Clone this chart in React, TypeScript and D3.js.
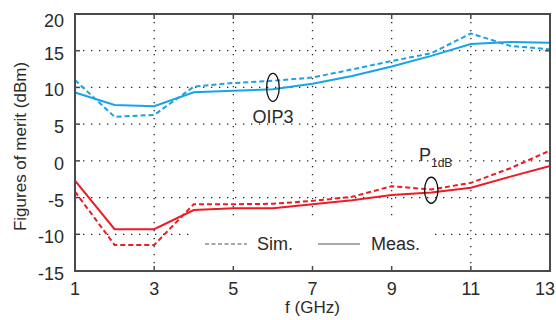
import React from "react";
import * as d3 from "d3";

const freqs = [1, 2, 3, 4, 5, 6, 7, 8, 9, 10, 11, 12, 13];
const oip3Sim = [11.0, 6.0, 6.25, 10.1, 10.6, 10.9, 11.35, 12.45, 13.6, 14.65, 17.35, 15.65, 15.2];
const oip3Meas = [9.3, 7.6, 7.45, 9.35, 9.55, 9.75, 10.5, 11.55, 12.85, 14.3, 15.9, 16.2, 16.1];
const p1dbSim = [-4.2, -11.45, -11.45, -5.9, -5.9, -5.85, -5.45, -4.9, -3.45, -3.9, -3.0, -1.0, 1.4];
const p1dbMeas = [-2.7, -9.3, -9.3, -6.7, -6.45, -6.45, -5.9, -5.35, -4.65, -4.3, -3.65, -2.15, -0.7];
const xTicks = [1, 3, 5, 7, 9, 11, 13];
const yTicks = [-15, -10, -5, 0, 5, 10, 15, 20];

const W = 556;
const H = 320;
const L = 75, R = 550, T = 14, B = 271;
const BLUE = "#1aa2e6";
const RED = "#ec1c24";
const TXT = "#2a2a2a";
const FONT = "Arial, 'Liberation Sans', sans-serif";

export default function App() {
  const x = d3.scaleLinear().domain([1, 13]).range([L, R]);
  const y = d3.scaleLinear().domain([-15, 20]).range([B, T]);
  const line = (vals: number[]) =>
    d3.line<number>().x((_, i) => x(freqs[i])).y((d) => y(d))(vals) || "";

  const tickLen = 5;
  return (
    <svg width={W} height={H} style={{ position: "fixed", left: 0, top: 0, background: "#fff" }}>
      <rect x={0} y={0} width={W} height={H} fill="#fff" />
      {/* grid */}
      {xTicks.slice(1, -1).map((t) => (
        <line key={"gx" + t} x1={x(t)} x2={x(t)} y1={T} y2={B} stroke="#222" strokeWidth={1.3} strokeDasharray="1.3 6.7" />
      ))}
      {yTicks.slice(1, -1).map((t) => (
        <line key={"gy" + t} x1={L} x2={R} y1={y(t)} y2={y(t)} stroke="#222" strokeWidth={1.3} strokeDasharray="1.3 6.7" />
      ))}
      {/* legend background */}
      <rect x={193} y={216} width={240} height={52} fill="#fff" />
      {/* curves */}
      <path d={line(oip3Meas)} fill="none" stroke={BLUE} strokeWidth={2} />
      <path d={line(oip3Sim)} fill="none" stroke={BLUE} strokeWidth={2} strokeDasharray="5 3" />
      <path d={line(p1dbMeas)} fill="none" stroke={RED} strokeWidth={2} />
      <path d={line(p1dbSim)} fill="none" stroke={RED} strokeWidth={2} strokeDasharray="5 3" />
      {/* frame */}
      <rect x={L} y={T} width={R - L} height={B - T} fill="none" stroke="#4a4a4a" strokeWidth={2} />
      {xTicks.map((t) => {
        const last = x(t) + 11 > W - 1;
        return (
          <g key={"tx" + t}>
            <line x1={x(t)} x2={x(t)} y1={B} y2={B - tickLen} stroke="#4a4a4a" strokeWidth={1.5} />
            <line x1={x(t)} x2={x(t)} y1={T} y2={T + tickLen} stroke="#4a4a4a" strokeWidth={1.5} />
            <text x={last ? W - 1 : x(t)} y={295} textAnchor={last ? "end" : "middle"} fontFamily={FONT} fontSize={18} fill={TXT}>{t}</text>
          </g>
        );
      })}
      {yTicks.map((t) => (
        <g key={"ty" + t}>
          <line x1={L} x2={L + tickLen} y1={y(t)} y2={y(t)} stroke="#4a4a4a" strokeWidth={1.5} />
          <line x1={R} x2={R - tickLen} y1={y(t)} y2={y(t)} stroke="#4a4a4a" strokeWidth={1.5} />
          <text x={64} y={Math.max(y(t) + 3, 21)} textAnchor="end" dominantBaseline="central" fontFamily={FONT} fontSize={18} fill={TXT}>{t}</text>
        </g>
      ))}
      {/* axis labels */}
      <text x={(L + R) / 2} y={313} textAnchor="middle" fontFamily={FONT} fontSize={17} fill={TXT}>f (GHz)</text>
      <text transform={`translate(26,${(T + B) / 2 + 4}) rotate(-90)`} textAnchor="middle" fontFamily={FONT} fontSize={17} fill={TXT}>Figures of merit (dBm)</text>
      {/* annotations */}
      <ellipse cx={x(6)} cy={y(10)} rx={6.3} ry={14} fill="none" stroke="#111" strokeWidth={1.3} />
      <text x={x(6)} y={123} textAnchor="middle" fontFamily={FONT} fontSize={18} fill={TXT}>OIP3</text>
      <ellipse cx={x(10)} cy={y(-4)} rx={6.7} ry={13} fill="none" stroke="#111" strokeWidth={1.3} />
      <text x={419} y={161} fontFamily={FONT} fontSize={18} fill={TXT}>
        P<tspan fontSize={12} dy={6}>1dB</tspan>
      </text>
      {/* legend */}
      <line x1={205} x2={247} y1={244} y2={244} stroke="#8c8c8c" strokeWidth={1.5} strokeDasharray="4 2.5" />
      <text x={257} y={250} fontFamily={FONT} fontSize={18} fill={TXT}>Sim.</text>
      <line x1={318} x2={360} y1={244} y2={244} stroke="#8c8c8c" strokeWidth={1.5} />
      <text x={371} y={250} fontFamily={FONT} fontSize={18} fill={TXT}>Meas.</text>
    </svg>
  );
}
